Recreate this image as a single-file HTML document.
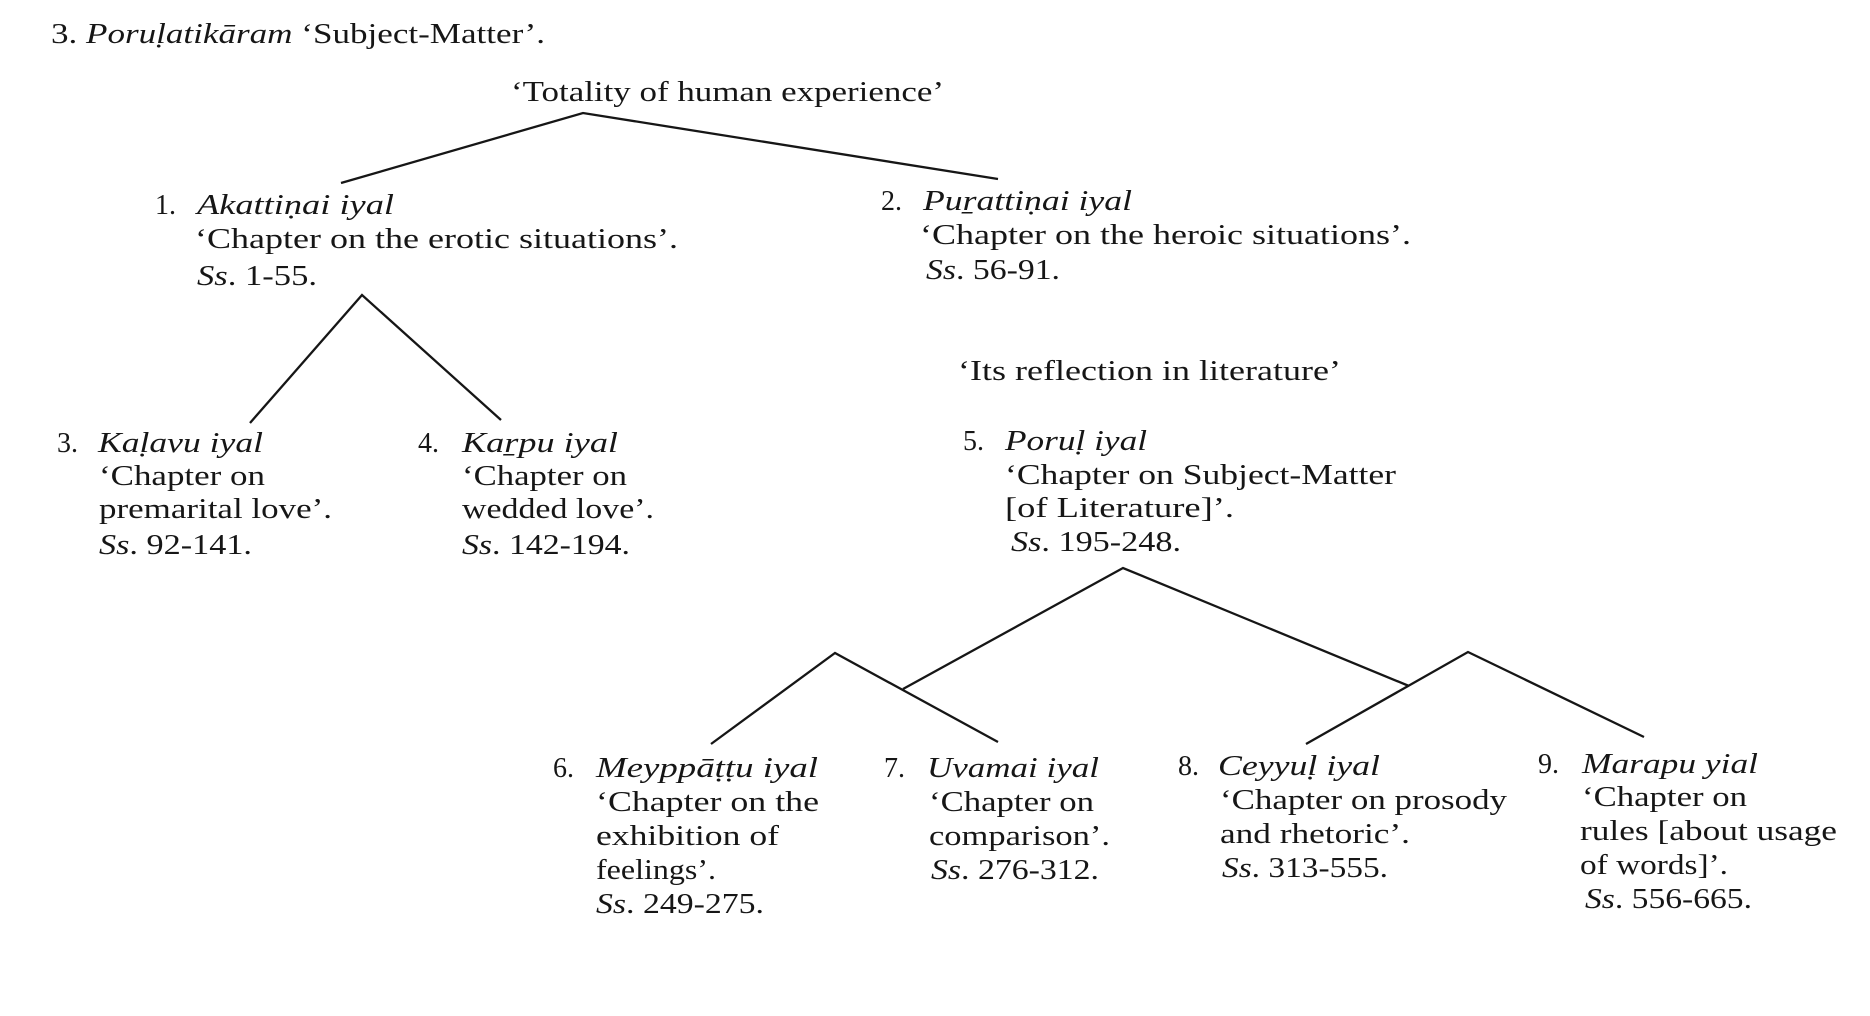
<!DOCTYPE html>
<html><head><meta charset="utf-8"><style>
html,body{margin:0;padding:0;background:#fff;}
svg{display:block}
text{font-family:"Liberation Serif","DejaVu Serif",serif;font-size:28px;fill:#161616}
.i{font-style:italic}
.ln{stroke:#161616;stroke-width:2.3;fill:none;stroke-linejoin:miter;stroke-linecap:butt}
</style></head><body>
<svg width="1870" height="1016" viewBox="0 0 1870 1016" xmlns="http://www.w3.org/2000/svg">
<rect width="1870" height="1016" fill="#fff"/>

<!-- Title -->
<text x="51" y="43" style="font-size:29px" textLength="494" lengthAdjust="spacingAndGlyphs">3. <tspan class="i">Poruḷatikāram</tspan> ‘Subject-Matter’.</text>

<!-- Root -->
<text x="511" y="101" textLength="433" lengthAdjust="spacingAndGlyphs">‘Totality of human experience’</text>
<polyline class="ln" points="341,183 583,113 998,179"/>

<!-- Node 1 -->
<text x="155" y="214">1.</text>
<text x="197" y="214" class="i" textLength="197" lengthAdjust="spacingAndGlyphs">Akattiṇai iyal</text>
<text x="195" y="248" textLength="483" lengthAdjust="spacingAndGlyphs">‘Chapter on the erotic situations’.</text>
<text x="197" y="285" textLength="120" lengthAdjust="spacingAndGlyphs"><tspan class="i">Ss</tspan>. 1-55.</text>

<!-- Node 2 -->
<text x="881" y="210">2.</text>
<text x="923" y="210" class="i" textLength="209" lengthAdjust="spacingAndGlyphs">Puṟattiṇai iyal</text>
<text x="920" y="244" textLength="491" lengthAdjust="spacingAndGlyphs">‘Chapter on the heroic situations’.</text>
<text x="926" y="279" textLength="134" lengthAdjust="spacingAndGlyphs"><tspan class="i">Ss</tspan>. 56-91.</text>

<!-- Node1 triangle -->
<polyline class="ln" points="250,423 362,295 501,420"/>

<!-- Node 3 -->
<text x="57" y="452">3.</text>
<text x="98" y="452" class="i" textLength="165" lengthAdjust="spacingAndGlyphs">Kaḷavu iyal</text>
<text x="99" y="485" textLength="166" lengthAdjust="spacingAndGlyphs">‘Chapter on</text>
<text x="99" y="518" textLength="233" lengthAdjust="spacingAndGlyphs">premarital love’.</text>
<text x="99" y="554" textLength="153" lengthAdjust="spacingAndGlyphs"><tspan class="i">Ss</tspan>. 92-141.</text>

<!-- Node 4 -->
<text x="418" y="452">4.</text>
<text x="462" y="452" class="i" textLength="156" lengthAdjust="spacingAndGlyphs">Kaṟpu iyal</text>
<text x="462" y="485" textLength="165" lengthAdjust="spacingAndGlyphs">‘Chapter on</text>
<text x="462" y="518" textLength="192" lengthAdjust="spacingAndGlyphs">wedded love’.</text>
<text x="462" y="554" textLength="168" lengthAdjust="spacingAndGlyphs"><tspan class="i">Ss</tspan>. 142-194.</text>

<!-- Reflection -->
<text x="958" y="380" textLength="383" lengthAdjust="spacingAndGlyphs">‘Its reflection in literature’</text>

<!-- Node 5 -->
<text x="963" y="450">5.</text>
<text x="1005" y="450" class="i" textLength="142" lengthAdjust="spacingAndGlyphs">Poruḷ iyal</text>
<text x="1005" y="484" textLength="391" lengthAdjust="spacingAndGlyphs">‘Chapter on Subject-Matter</text>
<text x="1005" y="517" textLength="229" lengthAdjust="spacingAndGlyphs">[of Literature]’.</text>
<text x="1011" y="551" textLength="170" lengthAdjust="spacingAndGlyphs"><tspan class="i">Ss</tspan>. 195-248.</text>

<!-- Lower tree -->
<polyline class="ln" points="903,689 1123,568 1409,686"/>
<polyline class="ln" points="711,744 835,653 998,742"/>
<polyline class="ln" points="1306,744 1468,652 1644,737"/>

<!-- Node 6 -->
<text x="553" y="777">6.</text>
<text x="596" y="777" class="i" textLength="222" lengthAdjust="spacingAndGlyphs">Meyppāṭṭu iyal</text>
<text x="596" y="811" textLength="223" lengthAdjust="spacingAndGlyphs">‘Chapter on the</text>
<text x="596" y="845" textLength="183" lengthAdjust="spacingAndGlyphs">exhibition of</text>
<text x="596" y="879" textLength="120" lengthAdjust="spacingAndGlyphs">feelings’.</text>
<text x="596" y="913" textLength="168" lengthAdjust="spacingAndGlyphs"><tspan class="i">Ss</tspan>. 249-275.</text>

<!-- Node 7 -->
<text x="884" y="777">7.</text>
<text x="927" y="777" class="i" textLength="172" lengthAdjust="spacingAndGlyphs">Uvamai iyal</text>
<text x="929" y="811" textLength="165" lengthAdjust="spacingAndGlyphs">‘Chapter on</text>
<text x="929" y="845" textLength="181" lengthAdjust="spacingAndGlyphs">comparison’.</text>
<text x="931" y="879" textLength="168" lengthAdjust="spacingAndGlyphs"><tspan class="i">Ss</tspan>. 276-312.</text>

<!-- Node 8 -->
<text x="1178" y="775">8.</text>
<text x="1218" y="775" class="i" textLength="162" lengthAdjust="spacingAndGlyphs">Ceyyuḷ iyal</text>
<text x="1220" y="809" textLength="287" lengthAdjust="spacingAndGlyphs">‘Chapter on prosody</text>
<text x="1220" y="843" textLength="190" lengthAdjust="spacingAndGlyphs">and rhetoric’.</text>
<text x="1222" y="877" textLength="166" lengthAdjust="spacingAndGlyphs"><tspan class="i">Ss</tspan>. 313-555.</text>

<!-- Node 9 -->
<text x="1538" y="773">9.</text>
<text x="1582" y="773" class="i" textLength="176" lengthAdjust="spacingAndGlyphs">Marapu yial</text>
<text x="1582" y="806" textLength="165" lengthAdjust="spacingAndGlyphs">‘Chapter on</text>
<text x="1580" y="840" textLength="257" lengthAdjust="spacingAndGlyphs">rules [about usage</text>
<text x="1580" y="874" textLength="148" lengthAdjust="spacingAndGlyphs">of words]’.</text>
<text x="1585" y="908" textLength="167" lengthAdjust="spacingAndGlyphs"><tspan class="i">Ss</tspan>. 556-665.</text>
</svg>
</body></html>
